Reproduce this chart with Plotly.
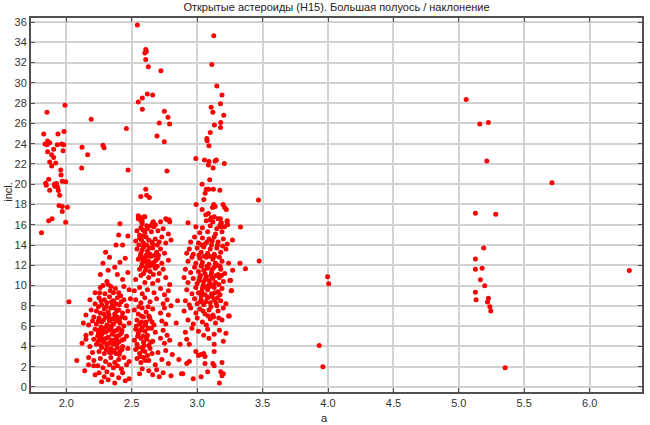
import plotly.graph_objects as go

# ---- data: (semi-major axis a [AU], inclination [deg]) ----
hungaria = [
    (1.99, 27.8), (1.852, 27.1), (1.827, 24.96), (1.936, 24.96), (1.982, 25.2),
    (1.857, 24.27), (1.837, 23.98), (1.873, 24.1), (1.852, 23.9), (1.931, 23.9),
    (1.964, 23.98), (1.98, 23.9), (1.903, 23.46), (1.857, 23.2), (1.975, 23.3),
    (1.888, 22.9), (1.903, 22.64), (1.873, 22.2), (1.888, 21.8), (1.919, 22.1),
    (1.957, 21.4), (1.96, 20.9), (1.969, 20.3), (1.995, 20.25), (1.842, 20.1),
    (1.847, 19.9), (1.865, 20.5), (1.908, 20.0), (1.924, 20.06), (1.934, 19.7),
    (1.913, 19.8), (1.873, 19.4), (1.939, 19.37), (1.949, 18.9), (1.944, 17.9),
    (1.969, 17.8), (2.008, 17.74), (1.969, 17.3), (1.891, 16.6), (1.865, 16.4),
    (1.995, 16.24), (1.81, 15.2),
    (2.19, 26.4), (2.12, 23.65), (2.28, 23.85), (2.288, 23.6), (2.163, 22.9), (2.117, 21.6),
]

inner_belt = [
    (2.41, 16.1), (2.40, 15.0), (2.47, 14.9), (2.38, 14.0), (2.43, 14.0), (2.30, 13.3),
    (2.33, 12.8), (2.45, 12.7), (2.28, 12.2), (2.41, 12.3),
    (2.37, 11.8), (2.26, 11.1), (2.32, 11.5), (2.39, 11.1), (2.43, 10.6), (2.47, 11.3),
    (2.31, 10.4), (2.32, 10.1), (2.26, 9.8), (2.36, 9.3), (2.40, 9.3), (2.22, 9.3),
    (2.28, 10.0), (2.44, 9.9), (2.48, 9.6), (2.34, 9.9),
    (2.02, 8.4), (2.18, 8.6), (2.25, 8.8), (2.29, 8.6), (2.33, 8.9), (2.36, 8.5), (2.39, 8.8),
    (2.42, 8.4), (2.46, 8.0), (2.22, 8.2), (2.27, 8.1), (2.31, 8.3), (2.35, 8.0), (2.38, 8.2),
    (2.44, 8.6), (2.49, 8.7),
    (2.15, 7.1), (2.19, 7.6), (2.23, 7.5), (2.26, 7.3), (2.29, 7.7), (2.32, 7.4), (2.34, 7.8),
    (2.37, 7.2), (2.40, 7.6), (2.43, 7.3), (2.47, 7.5), (2.21, 6.9), (2.25, 6.8), (2.30, 6.9),
    (2.35, 6.7), (2.39, 6.9), (2.45, 6.8),
    (2.13, 6.3), (2.17, 6.1), (2.20, 6.5), (2.23, 6.2), (2.27, 6.4), (2.31, 6.1), (2.33, 6.5),
    (2.36, 6.2), (2.38, 6.5), (2.41, 6.3), (2.44, 6.0), (2.48, 6.3), (2.28, 5.8), (2.25, 5.6),
    (2.34, 5.7), (2.40, 5.8), (2.22, 5.7),
    (2.15, 5.1), (2.19, 5.3), (2.24, 5.0), (2.27, 5.2), (2.30, 5.4), (2.32, 4.9), (2.35, 5.2),
    (2.38, 5.0), (2.42, 5.3), (2.46, 5.0), (2.21, 4.7), (2.26, 4.6), (2.29, 4.4), (2.37, 4.6),
    (2.40, 4.4), (2.44, 4.7),
    (2.15, 4.7), (2.12, 4.3), (2.18, 4.0), (2.23, 4.2), (2.27, 3.9), (2.31, 4.1), (2.34, 3.8),
    (2.36, 4.2), (2.39, 3.9), (2.43, 4.0), (2.47, 3.8), (2.25, 3.5), (2.29, 3.3), (2.33, 3.4),
    (2.38, 3.3), (2.41, 3.5), (2.20, 3.4),
    (2.08, 2.6), (2.17, 2.9), (2.21, 2.6), (2.26, 2.8), (2.30, 2.5), (2.34, 2.9), (2.37, 2.4),
    (2.40, 2.7), (2.44, 2.9), (2.48, 2.5), (2.24, 2.1), (2.28, 1.9), (2.33, 2.2), (2.36, 1.9),
    (2.39, 2.1), (2.42, 1.8), (2.46, 2.2),
    (2.14, 1.6), (2.17, 2.2), (2.21, 2.1), (2.22, 1.2), (2.25, 1.4), (2.29, 1.0), (2.31, 1.5),
    (2.35, 1.2), (2.37, 0.4), (2.40, 0.9), (2.43, 1.4), (2.45, 0.6), (2.48, 0.8), (2.32, 0.7),
    (2.27, 0.5),
    (2.245, 7.9), (2.265, 8.5), (2.285, 7.2), (2.305, 7.9), (2.325, 7.1), (2.345, 8.4),
    (2.365, 7.8), (2.385, 7.5), (2.405, 8.1), (2.425, 6.9), (2.245, 6.5), (2.265, 5.9),
    (2.285, 6.6), (2.305, 5.9), (2.325, 6.8), (2.345, 6.0), (2.365, 6.8), (2.385, 5.6),
    (2.405, 6.6), (2.425, 5.6), (2.245, 5.3), (2.265, 4.9), (2.285, 5.5), (2.305, 4.8),
    (2.325, 5.6), (2.345, 4.6), (2.365, 5.5), (2.385, 4.7), (2.405, 5.1), (2.425, 4.6),
    (2.245, 4.5), (2.265, 4.1), (2.285, 4.7), (2.305, 3.7), (2.325, 4.3), (2.345, 3.4),
    (2.365, 3.6), (2.385, 4.3), (2.405, 3.2), (2.425, 3.7), (2.255, 9.3), (2.295, 9.2),
    (2.335, 9.5), (2.375, 9.7), (2.415, 9.0),
]

middle_belt = [
    (2.55, 16.6), (2.58, 16.4), (2.60, 16.8), (2.58, 16.1), (2.66, 16.2), (2.68, 16.0),
    (2.72, 16.3), (2.77, 16.5), (2.79, 16.3),
    (2.54, 15.4), (2.57, 15.7), (2.60, 15.2), (2.62, 15.6), (2.65, 15.3), (2.67, 15.8),
    (2.70, 15.4), (2.74, 15.6), (2.78, 15.1), (2.56, 15.0),
    (2.53, 14.4), (2.56, 14.7), (2.59, 14.2), (2.61, 14.8), (2.63, 14.5), (2.66, 14.1),
    (2.68, 14.6), (2.71, 14.3), (2.73, 14.8), (2.76, 14.2), (2.80, 14.5),
    (2.54, 13.6), (2.57, 13.2), (2.59, 13.8), (2.62, 13.4), (2.64, 13.1), (2.66, 13.7),
    (2.69, 13.3), (2.72, 13.6), (2.75, 13.2), (2.58, 13.5), (2.61, 13.0),
    (2.55, 12.6), (2.58, 12.2), (2.60, 12.8), (2.63, 12.4), (2.65, 12.9), (2.67, 12.3),
    (2.70, 12.7), (2.73, 12.2), (2.78, 12.5), (2.62, 12.0),
    (2.56, 11.6), (2.59, 11.2), (2.61, 11.8), (2.64, 11.4), (2.68, 11.7), (2.71, 11.2),
    (2.74, 11.6), (2.57, 11.0),
    (2.53, 10.6), (2.60, 10.3), (2.63, 10.8), (2.66, 10.2), (2.70, 10.5), (2.76, 10.8), (2.79, 10.1),
    (2.52, 9.5), (2.56, 9.8), (2.58, 9.2), (2.62, 9.6), (2.67, 9.3), (2.72, 9.7), (2.75, 9.1), (2.78, 9.5),
    (2.53, 8.6), (2.57, 8.3), (2.60, 8.8), (2.64, 8.4), (2.69, 8.7), (2.74, 8.2), (2.77, 8.6), (2.80, 8.0),
    (2.52, 7.6), (2.55, 7.2), (2.58, 7.8), (2.61, 7.4), (2.63, 7.0), (2.66, 7.7), (2.72, 7.3),
    (2.75, 7.8), (2.78, 7.1),
    (2.54, 6.6), (2.56, 6.2), (2.59, 6.9), (2.61, 6.4), (2.64, 6.7), (2.67, 6.1), (2.73, 6.5), (2.76, 6.2),
    (2.53, 5.7), (2.55, 5.3), (2.58, 5.9), (2.60, 5.5), (2.62, 5.1), (2.65, 5.8), (2.68, 5.4),
    (2.74, 5.6), (2.77, 5.1),
    (2.52, 4.6), (2.54, 4.2), (2.57, 4.8), (2.59, 4.4), (2.61, 4.9), (2.63, 4.1), (2.66, 4.5),
    (2.72, 4.8), (2.75, 4.3), (2.79, 4.6),
    (2.53, 3.7), (2.56, 3.3), (2.58, 3.9), (2.60, 3.5), (2.62, 3.1), (2.64, 3.8), (2.70, 3.4),
    (2.76, 3.6), (2.81, 3.2),
    (2.54, 2.8), (2.57, 2.4), (2.59, 2.9), (2.63, 2.6), (2.68, 2.2), (2.73, 2.7), (2.78, 2.3),
    (2.58, 1.8), (2.63, 1.6), (2.66, 1.2), (2.69, 1.7), (2.71, 1.0), (2.74, 1.4), (2.80, 1.1), (2.56, 1.3),
    (2.87, 4.2), (2.86, 2.7), (2.88, 1.3), (2.85, 8.5), (2.84, 6.3),
    (2.555, 14.0), (2.575, 14.5), (2.595, 14.9), (2.615, 14.0), (2.635, 13.7), (2.655, 14.3),
    (2.675, 13.0), (2.695, 14.0), (2.565, 12.9), (2.585, 12.6), (2.605, 12.4), (2.625, 12.9),
    (2.645, 12.2), (2.665, 12.0), (2.685, 12.5), (2.705, 13.0), (2.575, 11.9), (2.605, 11.5),
    (2.635, 11.9), (2.665, 11.1), (2.695, 11.9), (2.585, 15.5), (2.645, 15.9), (2.615, 15.9),
    (2.535, 6.0), (2.545, 5.0), (2.565, 5.6), (2.575, 6.4), (2.585, 5.0), (2.595, 4.1),
    (2.605, 6.1), (2.615, 4.7), (2.625, 5.8), (2.635, 6.9), (2.645, 4.4), (2.655, 3.3),
    (2.565, 3.0), (2.585, 3.6), (2.605, 2.6), (2.575, 7.0), (2.555, 7.9), (2.625, 7.9),
    (2.655, 6.4), (2.545, 3.9),
]

high_incl = [
    (2.543, 35.7), (2.607, 33.3), (2.612, 33.1), (2.600, 32.95), (2.607, 32.3), (2.627, 31.6),
    (2.723, 31.2), (2.619, 28.9), (2.660, 28.8), (2.581, 28.5), (2.550, 28.1), (2.581, 27.4),
    (2.749, 27.2), (2.777, 26.6), (2.710, 26.05), (2.789, 25.95), (2.459, 25.5), (2.693, 24.75),
    (2.749, 24.2), (2.472, 21.4), (2.769, 21.3), (2.607, 19.5), (2.569, 18.8), (2.614, 18.9),
    (2.635, 18.7), (2.55, 16.9), (2.575, 16.7), (2.595, 16.8), (2.57, 16.4), (2.66, 16.1),
    (2.665, 16.3), (2.76, 16.6), (2.785, 16.5),
    (3.127, 34.66), (3.112, 31.8), (3.15, 29.7),
    (3.19, 28.8), (3.178, 27.93), (3.107, 27.6), (3.12, 27.1), (3.203, 26.8), (3.18, 26.1),
    (3.178, 25.6), (3.132, 25.85), (3.10, 25.1), (3.074, 24.5), (3.076, 24.3), (3.09, 23.8),
    (2.99, 22.55), (3.056, 22.4), (3.09, 22.25), (3.086, 21.9), (3.137, 22.3), (3.147, 22.4),
    (3.122, 21.6), (3.208, 22.05), (3.096, 20.45), (3.038, 20.0), (3.069, 19.5), (3.089, 19.5),
    (3.124, 19.5), (3.173, 19.4), (3.061, 19.1), (3.051, 18.5), (2.992, 18.0), (3.038, 17.5),
    (3.127, 18.0), (3.137, 17.8), (3.117, 17.7), (3.198, 18.0), (3.21, 17.7), (3.223, 17.5),
    (3.066, 17.0), (3.086, 17.1), (3.107, 16.7), (3.10, 16.5), (3.13, 16.8), (3.16, 16.6),
    (3.178, 16.6), (3.185, 16.2), (3.228, 16.3), (3.233, 16.0), (3.173, 15.9), (3.183, 15.8),
]

outer_belt = [
    (2.93, 16.2), (2.99, 15.8), (3.04, 15.7), (3.07, 16.4), (3.10, 15.9), (3.12, 16.3),
    (3.15, 15.6), (3.18, 16.1), (3.21, 15.8), (3.23, 16.4), (3.02, 15.2), (3.08, 15.3),
    (3.14, 15.1), (3.19, 15.3),
    (2.95, 14.3), (2.98, 14.8), (3.01, 14.2), (3.04, 14.7), (3.06, 14.1), (3.09, 14.6),
    (3.11, 14.0), (3.13, 14.8), (3.16, 14.3), (3.20, 14.6), (3.23, 14.1), (3.27, 14.5),
    (2.94, 13.6), (2.97, 13.1), (3.00, 13.7), (3.03, 13.3), (3.05, 13.8), (3.08, 13.2),
    (3.10, 13.6), (3.13, 13.1), (3.15, 13.7), (3.18, 13.3), (3.22, 13.6), (2.92, 13.2),
    (2.93, 12.4), (2.96, 12.8), (2.99, 12.2), (3.02, 12.7), (3.04, 12.3), (3.07, 12.8),
    (3.09, 12.1), (3.12, 12.6), (3.14, 12.2), (3.17, 12.8), (3.19, 12.4), (3.24, 12.2),
    (2.91, 11.6), (2.95, 11.3), (2.98, 11.8), (3.01, 11.4), (3.03, 11.9), (3.06, 11.2),
    (3.08, 11.7), (3.11, 11.3), (3.13, 11.8), (3.16, 11.1), (3.18, 11.6), (3.21, 11.2), (3.05, 11.5),
    (2.90, 10.8), (2.93, 10.3), (2.97, 10.7), (3.00, 10.2), (3.02, 10.8), (3.05, 10.4),
    (3.07, 10.9), (3.10, 10.2), (3.12, 10.7), (3.14, 10.3), (3.17, 10.8), (3.20, 10.4),
    (3.25, 10.5), (3.09, 10.5),
    (2.92, 9.6), (2.96, 9.2), (2.99, 9.8), (3.01, 9.3), (3.04, 9.7), (3.06, 9.1), (3.08, 9.6),
    (3.11, 9.2), (3.13, 9.8), (3.16, 9.4), (3.19, 9.7), (3.26, 9.5), (3.03, 9.0),
    (2.91, 8.5), (2.94, 8.1), (2.98, 8.7), (3.00, 8.2), (3.03, 8.6), (3.05, 8.1), (3.08, 8.8),
    (3.10, 8.3), (3.13, 8.6), (3.15, 8.0), (3.18, 8.5), (3.22, 8.2),
    (2.90, 7.5), (2.95, 7.8), (2.99, 7.3), (3.02, 7.7), (3.06, 7.2), (3.09, 7.6), (3.12, 7.1),
    (3.16, 7.5), (3.20, 7.8), (3.24, 7.0),
    (2.93, 6.6), (2.97, 6.2), (3.00, 6.8), (3.04, 6.4), (3.07, 6.1), (3.10, 6.7), (3.14, 6.3), (3.19, 6.6),
    (2.91, 5.4), (2.96, 5.8), (3.01, 5.5), (3.05, 5.1), (3.08, 5.7), (3.13, 5.2), (3.17, 5.6), (3.22, 5.3),
    (2.94, 4.2), (3.13, 4.2), (3.20, 4.5), (3.13, 3.5), (2.99, 3.5), (3.01, 3.1), (3.03, 3.2),
    (3.05, 3.3), (3.06, 3.0), (2.92, 4.7), (3.09, 4.8),
    (3.06, 2.3), (3.12, 2.3), (3.13, 2.1), (3.19, 2.4), (3.08, 1.5), (3.18, 1.5), (3.20, 1.3),
    (3.19, 1.1), (3.03, 1.0), (3.17, 0.4), (2.89, 1.3), (2.94, 2.5), (2.92, 2.3), (2.97, 0.8),
    (3.015, 13.0), (3.035, 12.0), (3.055, 12.9), (3.075, 11.9), (3.095, 12.9), (3.115, 11.6),
    (3.135, 12.9), (3.155, 12.0), (3.175, 11.9), (3.025, 11.0), (3.045, 10.0), (3.065, 10.7),
    (3.085, 10.0), (3.105, 11.0), (3.125, 10.0), (3.145, 11.0), (3.165, 10.1), (3.185, 11.0),
    (3.015, 10.5), (3.035, 9.4), (3.055, 9.9), (3.075, 8.9), (3.095, 9.9), (3.115, 8.9),
    (3.135, 9.3), (3.155, 8.8), (3.175, 9.1), (3.025, 8.4), (3.065, 8.4), (3.105, 7.9),
    (3.145, 8.3), (3.045, 7.5), (3.085, 7.0), (3.125, 6.9), (3.165, 6.8), (3.035, 14.0),
    (3.075, 14.3), (3.115, 14.4), (3.155, 14.0), (3.195, 13.9),
]

outer_sparse = [
    (3.331, 15.77), (3.469, 18.44), (3.474, 12.42), (3.327, 12.2), (3.369, 11.67),
    (3.271, 11.5), (3.255, 10.53), (3.263, 9.52), (3.245, 7.0),
    (3.997, 10.86), (4.005, 10.17), (3.933, 4.09), (3.961, 2.0),
]

trojans = [
    (5.056, 28.36), (5.16, 25.94), (5.226, 26.1), (5.214, 22.29), (5.712, 20.14),
    (5.127, 17.14), (5.282, 17.04), (5.19, 13.71), (5.127, 12.63), (5.127, 11.62),
    (5.178, 11.72), (6.303, 11.49), (5.165, 10.58), (5.198, 9.99), (5.127, 9.34),
    (5.132, 8.59), (5.226, 8.75), (5.219, 8.39), (5.237, 7.90), (5.244, 7.48), (5.354, 1.90),
]

x_ticks = [2.0, 2.5, 3.0, 3.5, 4.0, 4.5, 5.0, 5.5, 6.0]
y_ticks = list(range(0, 37, 2))

title_text = "Открытые астероиды (H15). Большая полуось / наклонение"
x_title = "a"
y_title = "incl."

groups = [hungaria, inner_belt, middle_belt, high_incl, outer_belt, outer_sparse, trojans]
all_pts = [p for g in groups for p in g]
a_vals = [p[0] for p in all_pts]
i_vals = [p[1] for p in all_pts]

FONT = "Liberation Sans, Arial, sans-serif"
fig = go.Figure()
fig.add_trace(go.Scatter(
    x=a_vals, y=i_vals, mode="markers",
    marker=dict(color="#ff0000", size=5, line=dict(width=0)),
    showlegend=False, hoverinfo="x+y",
))

axis_common = dict(
    showgrid=True, gridcolor="#d2d2d2", gridwidth=2,
    showline=True, linecolor="#505050", linewidth=2, mirror="ticks",
    ticks="inside", ticklen=4, tickcolor="#505050", tickwidth=1,
    zeroline=False, fixedrange=True, automargin=False,
    tickfont=dict(family=FONT, size=11, color="#333333"),
)

fig.update_layout(
    width=650, height=425,
    margin=dict(l=31, r=8, t=18, b=33),
    paper_bgcolor="white", plot_bgcolor="white",
    title=dict(text=title_text, x=0.5, xref="paper", y=1 - 7 / 425, yref="container",
               yanchor="middle", xanchor="center", automargin=False,
               font=dict(family=FONT, size=11, color="#222222")),
    xaxis=dict(range=[1.73, 6.40], tickvals=x_ticks,
               ticktext=[f"{v:.1f}" for v in x_ticks], **axis_common),
    yaxis=dict(range=[-0.5, 36.4], tickvals=y_ticks, ticktext=[str(v) for v in y_ticks],
               **axis_common),
    annotations=[
        dict(text=x_title, xref="paper", yref="paper", x=0.481, y=-0.07,
             showarrow=False, font=dict(family=FONT, size=11, color="#222222"),
             xanchor="center", yanchor="middle"),
        dict(text=y_title, xref="paper", yref="paper", x=-0.038, y=0.535, textangle=-90,
             showarrow=False, font=dict(family=FONT, size=11, color="#222222"),
             xanchor="center", yanchor="middle"),
    ],
)

fig.write_html(
    "out.html",
    config={"displayModeBar": False},
    post_script="document.body.style.margin='0';document.body.style.padding='0';",
)
